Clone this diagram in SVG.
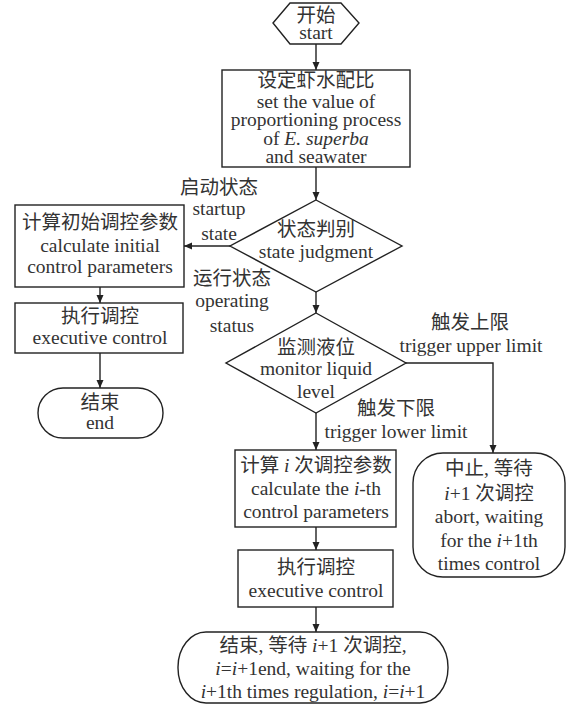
<svg xmlns="http://www.w3.org/2000/svg" width="566" height="704" viewBox="0 0 566 704">
<defs>
<marker id="arr" markerWidth="8" markerHeight="8" viewBox="0 0 8 8" refX="8" refY="4" orient="auto" markerUnits="userSpaceOnUse">
<path d="M0,0.5 L8,4 L0,7.5 Z" fill="#222"/>
</marker>
<style>
.s{fill:#fff;stroke:#222;stroke-width:1.4}
.c{fill:none;stroke:#222;stroke-width:1.4;marker-end:url(#arr)}
.i{font-style:italic}
</style>
</defs>
<rect width="566" height="704" fill="#fff"/>
<g id="connectors">
<line class="c" x1="316" y1="44" x2="316" y2="70"/>
<line class="c" x1="316" y1="167" x2="316" y2="200"/>
<line class="c" x1="230" y1="246" x2="184" y2="246"/>
<line class="c" x1="100" y1="287" x2="100" y2="303"/>
<line class="c" x1="100" y1="353" x2="100" y2="388"/>
<line class="c" x1="316" y1="292" x2="316" y2="313"/>
<polyline class="c" points="406,363 493,363 493,453"/>
<line class="c" x1="316" y1="413" x2="316" y2="450"/>
<line class="c" x1="316" y1="527" x2="316" y2="550"/>
<line class="c" x1="316" y1="607" x2="316" y2="632"/>
</g>
<g font-family="Liberation Serif, Noto Sans CJK SC, serif" font-size="19.5" fill="#333" text-anchor="middle">
<g id="labels">
<text x="219" y="194">启动状态</text>
<text x="219" y="215">startup</text>
<text x="219" y="240">state</text>
<text x="232" y="285">运行状态</text>
<text x="232" y="307">operating</text>
<text x="232" y="332">status</text>
<text x="470" y="329">触发上限</text>
<text x="471" y="352">trigger upper limit</text>
<text x="396" y="415">触发下限</text>
<text x="396" y="438">trigger lower limit</text>
</g>
<g id="start">
<polygon class="s" points="273,23 290,3 341,3 359,23 341,44 290,44"/>
<text x="316" y="22">开始</text>
<text x="316" y="39">start</text>
</g>
<g id="set-ratio">
<rect class="s" x="222" y="70" width="188" height="97"/>
<text x="316" y="87">设定虾水配比</text>
<text x="316" y="108">set the value of</text>
<text x="316" y="126">proportioning process</text>
<text x="316" y="145">of <tspan class="i">E. superba</tspan></text>
<text x="316" y="163">and seawater</text>
</g>
<g id="state-judgment">
<polygon class="s" points="316,200 402,246 316,292 230,246"/>
<text x="316" y="236">状态判别</text>
<text x="316" y="258">state judgment</text>
</g>
<g id="calc-initial">
<rect class="s" x="15" y="205" width="169" height="82"/>
<text x="100" y="229">计算初始调控参数</text>
<text x="100" y="252">calculate initial</text>
<text x="100" y="273">control parameters</text>
</g>
<g id="exec-left">
<rect class="s" x="15" y="303" width="168" height="50"/>
<text x="100" y="323">执行调控</text>
<text x="100" y="344">executive control</text>
</g>
<g id="end-left">
<rect class="s" x="38" y="388" width="125" height="50" rx="25" ry="25"/>
<text x="100" y="409">结束</text>
<text x="100" y="429">end</text>
</g>
<g id="monitor">
<polygon class="s" points="316,313 406,363 316,413 226,363"/>
<text x="316" y="354">监测液位</text>
<text x="316" y="375">monitor liquid</text>
<text x="316" y="398">level</text>
</g>
<g id="abort">
<rect class="s" x="413" y="453" width="152" height="124" rx="30" ry="30"/>
<text x="489" y="475">中止, 等待</text>
<text x="489" y="500"><tspan class="i">i</tspan>+1 次调控</text>
<text x="489" y="523">abort, waiting</text>
<text x="489" y="547">for the <tspan class="i">i</tspan>+1th</text>
<text x="489" y="570">times control</text>
</g>
<g id="calc-i">
<rect class="s" x="235" y="450" width="161" height="77"/>
<text x="316" y="472">计算 <tspan class="i">i</tspan> 次调控参数</text>
<text x="316" y="495">calculate the <tspan class="i">i</tspan>-th</text>
<text x="316" y="518">control parameters</text>
</g>
<g id="exec-i">
<rect class="s" x="238" y="550" width="155" height="57"/>
<text x="316" y="574">执行调控</text>
<text x="316" y="597">executive control</text>
</g>
<g id="end-i">
<rect class="s" x="178" y="632" width="270" height="71" rx="28" ry="35"/>
<text x="313" y="652">结束, 等待 <tspan class="i">i</tspan>+1 次调控,</text>
<text x="313" y="675"><tspan class="i">i</tspan>=<tspan class="i">i</tspan>+1end, waiting for the</text>
<text x="313" y="698"><tspan class="i">i</tspan>+1th times regulation, <tspan class="i">i</tspan>=<tspan class="i">i</tspan>+1</text>
</g>
</g>
</svg>
